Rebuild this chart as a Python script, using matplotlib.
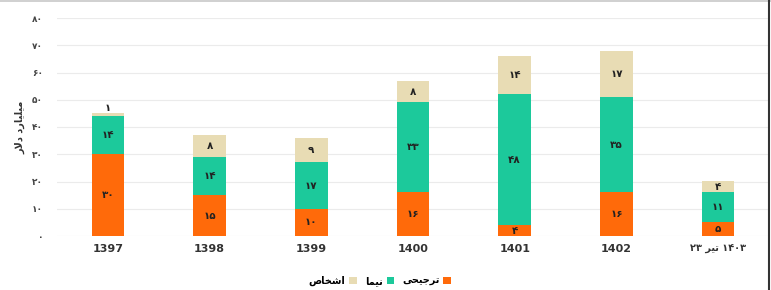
import matplotlib
matplotlib.use("Agg")
import matplotlib.pyplot as plt
from matplotlib.patches import Patch
from matplotlib.lines import Line2D
import numpy as np

# ---------------- data ----------------
categories = ["1397", "1398", "1399", "1400", "1401", "1402", "۲۳ تیر ۱۴۰۳"]
tarjihi = [30, 15, 10, 16, 4, 16, 5]     # ترجیحی
nima = [14, 14, 17, 33, 48, 35, 11]      # نیما
ashkhas = [1, 8, 9, 8, 14, 17, 4]        # اشخاص
series_names = ["ترجیحی", "نیما", "اشخاص"]
y_label = "میلیارد دلار"
y_ticks = [0, 10, 20, 30, 40, 50, 60, 70, 80]

# ---------------- Persian helpers ----------------
FORMS = {
    'ا': ('\uFE8D', '\uFE8E', None, None),
    'د': ('\uFEA9', '\uFEAA', None, None),
    'ر': ('\uFEAD', '\uFEAE', None, None),
    'ت': ('\uFE95', '\uFE96', '\uFE97', '\uFE98'),
    'ج': ('\uFE9D', '\uFE9E', '\uFE9F', '\uFEA0'),
    'ح': ('\uFEA1', '\uFEA2', '\uFEA3', '\uFEA4'),
    'خ': ('\uFEA5', '\uFEA6', '\uFEA7', '\uFEA8'),
    'ش': ('\uFEB5', '\uFEB6', '\uFEB7', '\uFEB8'),
    'ص': ('\uFEB9', '\uFEBA', '\uFEBB', '\uFEBC'),
    'ل': ('\uFEDD', '\uFEDE', '\uFEDF', '\uFEE0'),
    'م': ('\uFEE1', '\uFEE2', '\uFEE3', '\uFEE4'),
    'ن': ('\uFEE5', '\uFEE6', '\uFEE7', '\uFEE8'),
    'ی': ('\uFBFC', '\uFBFD', '\uFBFE', '\uFBFF'),
}


def shape_word(word):
    out = []
    i = 0
    n = len(word)
    while i < n:
        ch = word[i]
        prev_joins = i > 0 and word[i - 1] in FORMS and FORMS[word[i - 1]][2] is not None
        if ch == 'ل' and i + 1 < n and word[i + 1] == 'ا':
            out.append('\uFEFC' if prev_joins else '\uFEFB')
            i += 2
            continue
        if ch not in FORMS:
            out.append(ch)
            i += 1
            continue
        iso, fin, ini, med = FORMS[ch]
        next_joins = (ini is not None) and i + 1 < n and word[i + 1] in FORMS
        if prev_joins and next_joins:
            out.append(med)
        elif prev_joins:
            out.append(fin)
        elif next_joins:
            out.append(ini)
        else:
            out.append(iso)
        i += 1
    return ''.join(reversed(out))


def rtl(text):
    words = text.split(' ')
    return ' '.join(shape_word(w) for w in reversed(words))


FA_DIGITS = str.maketrans('0123456789', '۰۱۲۳۴۵۶۷۸۹')


def fa(n):
    return str(n).translate(FA_DIGITS)


def display_cat(c):
    if c.isdigit():
        return c
    return ' '.join(shape_word(w) if not any(ch in '۰۱۲۳۴۵۶۷۸۹' for ch in w) else w
                    for w in c.split(' '))


# ---------------- figure ----------------
plt.rcParams['font.family'] = ['DejaVu Sans']
fig = plt.figure(figsize=(7.71, 2.90), dpi=100)
ax = fig.add_axes([57 / 771, 1 - 236 / 290, 712 / 771, (236 - 18) / 290])

c_orange = '#FF6A0A'
c_teal = '#1CC99B'
c_beige = '#E8DCB4'

x = np.arange(len(categories))
w = 0.32
t = np.array(tarjihi)
nm = np.array(nima)
a = np.array(ashkhas)
ax.bar(x, t, w, color=c_orange, zorder=3)
ax.bar(x, nm, w, bottom=t, color=c_teal, zorder=3)
ax.bar(x, a, w, bottom=t + nm, color=c_beige, zorder=3)

lab_kw = dict(ha='center', va='center', fontsize=7.5, fontweight='bold', color='#222222', zorder=4)
for i in range(len(x)):
    ax.text(x[i], t[i] / 2, fa(t[i]), **lab_kw)
    ax.text(x[i], t[i] + nm[i] / 2, fa(nm[i]), **lab_kw)
    if a[i] >= 3:
        ax.text(x[i], t[i] + nm[i] + a[i] / 2, fa(a[i]), **lab_kw)
    else:
        ax.text(x[i], t[i] + nm[i] + a[i] + 0.2, fa(a[i]), ha='center', va='bottom',
                fontsize=7.5, fontweight='bold', color='#222222', zorder=4)

ax.set_xlim(-0.5, len(categories) - 0.5)
ax.set_ylim(0, 80)
ax.set_yticks(y_ticks)
ax.set_yticklabels([fa(v) for v in y_ticks], fontsize=6.5, fontweight='bold', color='#444444')
ax.set_xticks(x)
xl = ax.set_xticklabels([display_cat(c) for c in categories], fontsize=8,
                        fontweight='bold', color='#333333')
xl[-1].set_fontsize(7)
ax.tick_params(axis='both', length=0, pad=6)
ax.tick_params(axis='y', pad=10)
ax.grid(axis='y', color='#EBEBEB', linewidth=0.8, zorder=0)
for s in ax.spines.values():
    s.set_visible(False)

fig.text(20 / 771, 1 - 127 / 290, rtl(y_label), rotation=90, ha='center', va='center',
         fontsize=7, fontweight='bold', color='#333333')

handles = [Patch(facecolor=c_beige), Patch(facecolor=c_teal), Patch(facecolor=c_orange)]
labels = [rtl(series_names[2]), rtl(series_names[1]), rtl(series_names[0])]
fig.legend(handles, labels, loc='center', bbox_to_anchor=(380 / 771, 1 - 281 / 290),
           ncol=3, frameon=False, markerfirst=False,
           prop={'size': 7, 'weight': 'bold'},
           handlelength=0.8, handleheight=0.8, handletextpad=0.4, columnspacing=0.8)

# image frame lines
fig.add_artist(Line2D([0, 1], [0.998, 0.998], transform=fig.transFigure, color='#C8C8C8', linewidth=1.2))
fig.add_artist(Line2D([0.9975, 0.9975], [0, 1], transform=fig.transFigure, color='#333333', linewidth=1.5))

fig.savefig('out.png', dpi=100)
